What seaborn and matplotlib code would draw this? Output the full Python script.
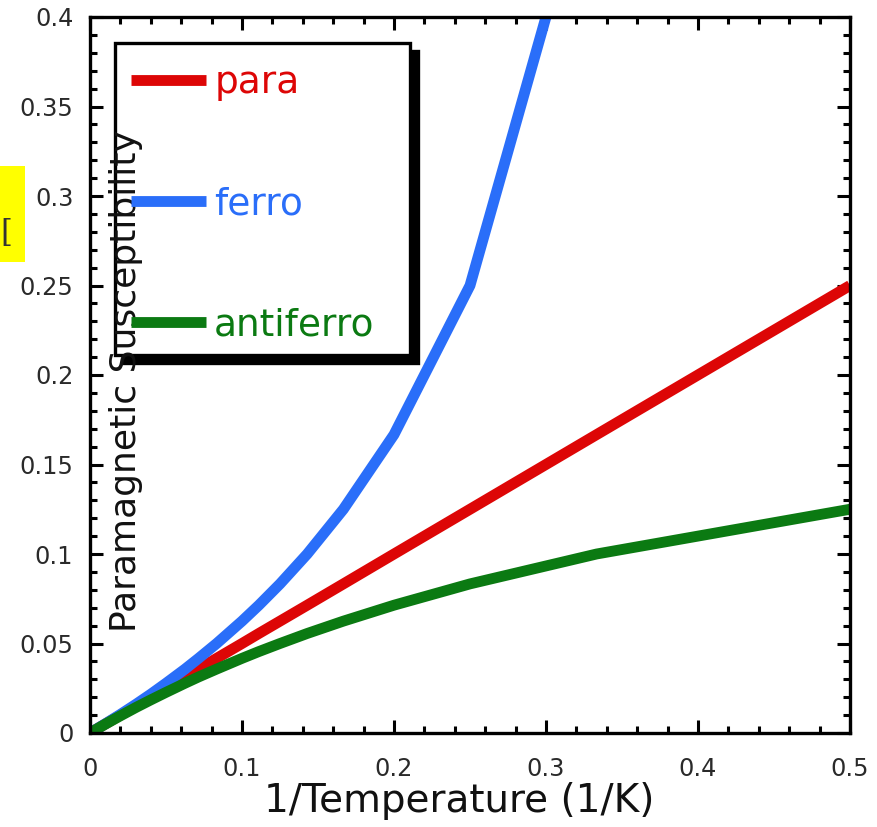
import matplotlib
matplotlib.use("Agg")
import matplotlib.pyplot as plt
import matplotlib.transforms as mtransforms
from matplotlib.patches import Rectangle
from matplotlib.ticker import MultipleLocator
import seaborn as sns
import pandas as pd

# ---- data (1/T values and susceptibilities) ----
inv_temp = [0.0, 0.01, 0.02, 0.0303, 0.04, 0.05, 0.0625, 0.0714, 0.0833,
            0.1, 0.1111, 0.125, 0.1429, 0.1667, 0.2, 0.25, 0.3333, 0.5]
para = [0.0, 0.005, 0.01, 0.0152, 0.02, 0.025, 0.0313, 0.0357, 0.0417,
        0.05, 0.0556, 0.0625, 0.0714, 0.0833, 0.1, 0.125, 0.1667, 0.25]
antiferro = [0.0, 0.0049, 0.0096, 0.0143, 0.0185, 0.0227, 0.0278, 0.0313, 0.0357,
             0.0417, 0.0455, 0.05, 0.0556, 0.0625, 0.0714, 0.0833, 0.1, 0.125]
inv_temp_ferro = [0.0, 0.01, 0.02, 0.0303, 0.04, 0.05, 0.0625, 0.0714, 0.0833,
                  0.1, 0.1111, 0.125, 0.1429, 0.1667, 0.2, 0.25, 0.3333]
ferro = [0.0, 0.0051, 0.0104, 0.0161, 0.0217, 0.0278, 0.0357, 0.0417, 0.05,
         0.0625, 0.0714, 0.0833, 0.1, 0.125, 0.1667, 0.25, 0.5]

series_names = ["para", "ferro", "antiferro"]
colors = {"para": "#dd0606", "ferro": "#2a6ef9", "antiferro": "#0b7a12"}

df = pd.concat([
    pd.DataFrame({"x": inv_temp, "chi": para, "kind": "para"}),
    pd.DataFrame({"x": inv_temp_ferro, "chi": ferro, "kind": "ferro"}),
    pd.DataFrame({"x": inv_temp, "chi": antiferro, "kind": "antiferro"}),
], ignore_index=True)

sns.set_theme(style="white")
plt.rcParams["font.family"] = ["DejaVu Sans"]

W, H = 878, 827
fig = plt.figure(figsize=(W / 100, H / 100), dpi=100)
L, R, T, B = 90, 850, 17, 733
ax = fig.add_axes([L / W, 1 - B / H, (R - L) / W, (B - T) / H])
ax.set_axisbelow(True)  # axis (with its label) at zorder 0.5

LW = 7.8
sns.lineplot(data=df, x="x", y="chi", hue="kind", hue_order=series_names,
             palette=colors, linewidth=LW, ax=ax, legend=False,
             estimator=None, sort=False)
for ln in ax.lines:
    ln.set_solid_capstyle("butt")
    ln.set_solid_joinstyle("round")

ax.set_xlim(0, 0.5)
ax.set_ylim(0, 0.4)
ax.xaxis.set_minor_locator(MultipleLocator(0.02))
ax.yaxis.set_minor_locator(MultipleLocator(0.01))
ax.set_xticks([0, 0.1, 0.2, 0.3, 0.4, 0.5])
ax.set_xticklabels(["0", "0.1", "0.2", "0.3", "0.4", "0.5"])
ax.set_yticks([0, 0.05, 0.1, 0.15, 0.2, 0.25, 0.3, 0.35, 0.4])
ax.set_yticklabels(["0", "0.05", "0.1", "0.15", "0.2", "0.25", "0.3", "0.35", "0.4"])

for s in ax.spines.values():
    s.set_visible(True)
    s.set_color("black")
    s.set_linewidth(2.4)
    s.set_zorder(3)

ax.tick_params(which="both", direction="in", top=True, right=True,
               bottom=True, left=True, color="black", width=2.2)
ax.tick_params(which="major", length=9.5)
ax.tick_params(which="minor", length=5.0)
ax.tick_params(axis="y", which="major", labelsize=17.3, pad=12, labelcolor="#2a2a2a")
ax.tick_params(axis="x", which="major", labelsize=17.3, pad=17, labelcolor="#2a2a2a")

ax.set_xlabel("1/Temperature (1/K)", fontsize=28, color="#111111")
ax.xaxis.set_label_coords((459 - L) / (R - L), -(801 - B) / (B - T), transform=ax.transAxes)
ax.xaxis.label.set_va("center")

ax.set_ylabel("Paramagnetic Susceptibility", fontsize=26, color="#111111")
ax.yaxis.label.set_va("center")
ax.yaxis.set_label_coords((126 - L) / (R - L), (B - 381) / (B - T))

# legend box with solid shadow (below the axis label, as in the reference)
bx0, bx1 = (115 - L) / (R - L), (410 - L) / (R - L)
by0, by1 = (B - 355) / (B - T), (B - 43) / (B - T)
shadow_tr = mtransforms.offset_copy(ax.transAxes, fig=fig, x=8, y=-8, units="dots")
ax.add_patch(Rectangle((bx0, by0), bx1 - bx0, by1 - by0, transform=shadow_tr,
                       facecolor="black", edgecolor="black", linewidth=2.4,
                       zorder=0.2, clip_on=False))
ax.add_patch(Rectangle((bx0, by0), bx1 - bx0, by1 - by0, transform=ax.transAxes,
                       facecolor="white", edgecolor="black", linewidth=2.4,
                       zorder=0.3, clip_on=False))

handles = [plt.Line2D([], [], color=colors[n], linewidth=LW, solid_capstyle="butt")
           for n in series_names]
leg = ax.legend(handles, series_names, loc="upper left",
                bbox_to_anchor=((131 - L) / (R - L), (B - 65) / (B - T)),
                frameon=False, fontsize=27, handlelength=2.0, handletextpad=0.22,
                labelspacing=2.27, borderpad=0, borderaxespad=0)
for txt, n in zip(leg.get_texts(), series_names):
    txt.set_color(colors[n])

# yellow annotation patch at left edge
fig.patches.append(Rectangle((0, 1 - 262 / H), 25 / W, (262 - 166) / H,
                             transform=fig.transFigure, facecolor="#ffff00",
                             edgecolor="none", zorder=0))
fig.text(0.5 / W, 1 - 234 / H, "[", fontsize=22, family="DejaVu Serif",
         va="center", ha="left", color="#333333")

fig.savefig("out.png", dpi=100)
